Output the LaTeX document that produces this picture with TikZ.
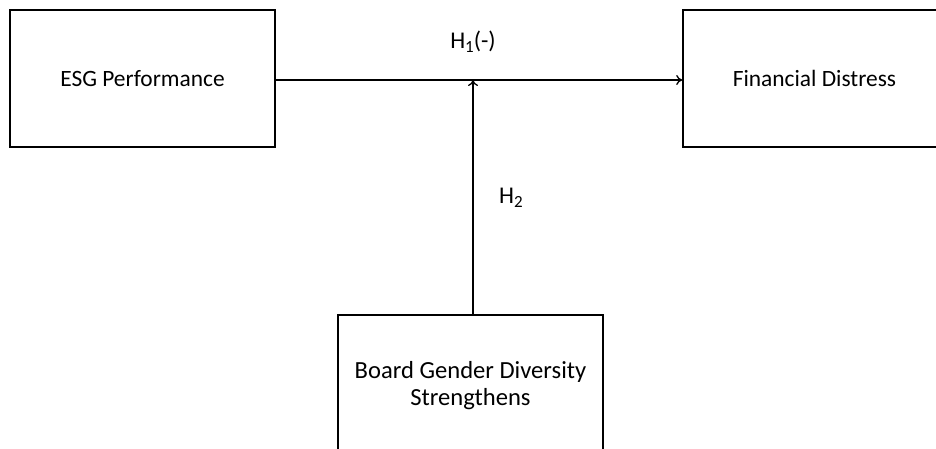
\documentclass[tikz,border=0pt]{standalone}
\usepackage{fontspec}
\setmainfont{Carlito}
\usetikzlibrary{arrows.meta}
\newcommand{\lowsub}[1]{\raisebox{-4pt}{\fontsize{17}{17}\selectfont #1}}
\begin{document}
\begin{tikzpicture}[x=1pt,y=-1pt,
  box/.style={draw=black,line width=1.6pt,minimum width=265pt,minimum height=137pt,inner sep=0pt,font=\fontsize{23.4}{27}\selectfont,align=center},
  conn/.style={line width=1.3pt,-{To[length=6pt,width=10pt]}},
  lbl/.style={font=\fontsize{24}{28}\selectfont}]
\useasboundingbox (0,0) rectangle (936,448);
\clip (0,0) rectangle (936,448);
\node[box] (esg) at (142.5,78.5) {ESG Performance};
\node[box,minimum width=263pt] (fd) at (814.5,78.5) {Financial Distress};
\node[box,minimum height=142pt,font=\fontsize{24.6}{27}\selectfont] (bgd) at (470.5,386) {Board Gender Diversity\\Strengthens};
\coordinate (mid) at (473,80);
\draw[conn] (esg.east|-mid) -- (fd.west|-mid);
\draw[conn] (bgd.north-|mid) -- (mid);
\node[lbl] (h1) at (473,42) {H\lowsub{1}(-)};
\node[lbl] (h2) at (511,198) {H\lowsub{2}};
\end{tikzpicture}
\end{document}
